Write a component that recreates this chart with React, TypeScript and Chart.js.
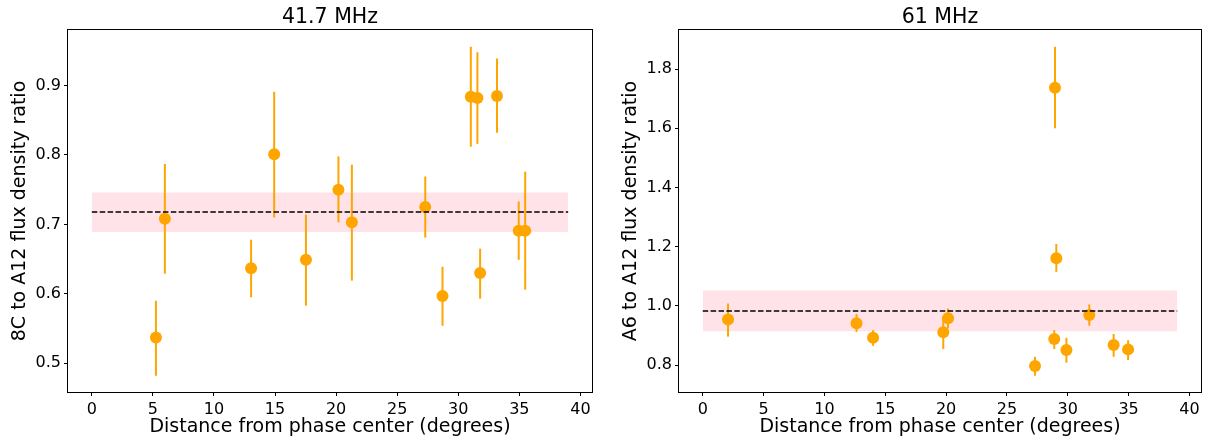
import React, { useEffect, useRef } from "react";
import { Chart, registerables } from "chart.js";

Chart.register(...registerables);

const FONT = "'DejaVu Sans', sans-serif";

// ---- Left panel: 41.7 MHz ----
const leftDistance = [5.25, 5.98, 13.04, 14.93, 17.53, 20.19, 21.29, 27.3, 28.71, 31.03, 31.57, 33.17, 31.79, 34.95, 35.48];
const leftRatio = [0.537, 0.708, 0.637, 0.801, 0.649, 0.75, 0.703, 0.725, 0.597, 0.884, 0.882, 0.885, 0.63, 0.691, 0.691];
const leftLower = [0.482, 0.629, 0.595, 0.71, 0.583, 0.703, 0.619, 0.681, 0.554, 0.812, 0.816, 0.832, 0.593, 0.649, 0.606];
const leftUpper = [0.59, 0.787, 0.678, 0.891, 0.714, 0.798, 0.786, 0.769, 0.639, 0.956, 0.948, 0.939, 0.665, 0.733, 0.776];
const leftMean = 0.718;
const leftBand = [0.689, 0.746];
const leftYTicks = [0.5, 0.6, 0.7, 0.8, 0.9];
const leftYRange = [0.4586, 0.98];

// ---- Right panel: 61 MHz ----
const rightDistance = [2.08, 12.64, 14.0, 19.77, 20.16, 27.31, 28.89, 29.06, 28.95, 29.89, 31.77, 33.77, 34.96];
const rightRatio = [0.954, 0.941, 0.892, 0.911, 0.958, 0.797, 0.888, 1.161, 1.737, 0.851, 0.969, 0.868, 0.853];
const rightLower = [0.896, 0.912, 0.865, 0.854, 0.924, 0.764, 0.854, 1.115, 1.6, 0.808, 0.933, 0.828, 0.817];
const rightUpper = [1.008, 0.972, 0.918, 0.963, 0.991, 0.828, 0.918, 1.209, 1.875, 0.892, 1.005, 0.905, 0.884];
const rightMean = 0.983;
const rightBand = [0.914, 1.052];
const rightYTicks = [0.8, 1.0, 1.2, 1.4, 1.6, 1.8];
const rightYRange = [0.709, 1.932];

// ---- Shared ----
const xTicks = [0, 5, 10, 15, 20, 25, 30, 35, 40];
const xRange = [-1.95, 40.95];
const bandExtent = [0, 39];
const xTitle = "Distance from phase center (degrees)";

const ORANGE = "#FFA500";

type PanelProps = {
  title: string;
  yTitle: string;
  xs: number[];
  ys: number[];
  lo: number[];
  hi: number[];
  mean: number;
  band: number[];
  yTicks: number[];
  yRange: number[];
  left: number;
  width: number;
  padRight: number;
};

function Panel(p: PanelProps) {
  const ref = useRef<HTMLCanvasElement | null>(null);
  useEffect(() => {
    if (!ref.current) return;
    const points = p.xs.map((x, i) => ({ x, y: p.ys[i] }));
    const errorBars = {
      id: "errorBars",
      beforeDatasetDraw(chart: any, args: any) {
        if (args.index !== 1) return;
        const xs = chart.scales.x;
        const ys = chart.scales.y;
        const ctx = chart.ctx;
        ctx.save();
        ctx.strokeStyle = ORANGE;
        ctx.lineWidth = 2;
        p.xs.forEach((x, i) => {
          const px = xs.getPixelForValue(x);
          ctx.beginPath();
          ctx.moveTo(px, ys.getPixelForValue(p.lo[i]));
          ctx.lineTo(px, ys.getPixelForValue(p.hi[i]));
          ctx.stroke();
        });
        ctx.restore();
      },
    };
    const frame = {
      id: "frame",
      afterDatasetsDraw(chart: any) {
        const a = chart.chartArea;
        const ctx = chart.ctx;
        ctx.save();
        ctx.strokeStyle = "#000";
        ctx.lineWidth = 1;
        ctx.strokeRect(Math.round(a.left) - 0.5, Math.round(a.top) - 0.5, Math.round(a.right - a.left) + 1, Math.round(a.bottom - a.top) + 1);
        ctx.restore();
      },
      afterDraw(chart: any) {
        const a = chart.chartArea;
        const ctx = chart.ctx;
        ctx.save();
        ctx.fillStyle = "#000";
        ctx.font = `20.5px ${FONT}`;
        ctx.textAlign = "center";
        ctx.textBaseline = "middle";
        ctx.fillText(p.title, (a.left + a.right) / 2, 17.3);
        ctx.restore();
      },
    };
    const chart = new Chart(ref.current, {
      type: "scatter",
      data: {
        datasets: [
          {
            type: "line",
            data: bandExtent.map((x) => ({ x, y: p.mean })),
            borderColor: "#000",
            borderWidth: 1.5,
            borderDash: [5.5, 2.4],
            pointRadius: 0,
            fill: false,
          } as any,
          {
            data: points,
            pointRadius: 6,
            pointBackgroundColor: ORANGE,
            pointBorderWidth: 0,
            backgroundColor: ORANGE,
            borderColor: ORANGE,
          },
          {
            type: "line",
            data: bandExtent.map((x) => ({ x, y: p.band[1] })),
            borderWidth: 0,
            pointRadius: 0,
            backgroundColor: "rgba(255,192,203,0.45)",
            fill: "+1",
          } as any,
          {
            type: "line",
            data: bandExtent.map((x) => ({ x, y: p.band[0] })),
            borderWidth: 0,
            pointRadius: 0,
            fill: false,
          } as any,
        ],
      },
      options: {
        responsive: false,
        animation: false,
        layout: { padding: { left: 0, right: p.padRight, top: 30, bottom: 0 } },
        plugins: {
          legend: { display: false },
          tooltip: { enabled: false },
          title: { display: false },
        },
        scales: {
          x: {
            type: "linear",
            min: xRange[0],
            max: xRange[1],
            afterBuildTicks: (s: any) => {
              s.ticks = xTicks.map((v) => ({ value: v }));
            },
            afterFit: (s: any) => {
              s.height = 47;
            },
            ticks: {
              color: "#000",
              font: { family: FONT, size: 16 },
              padding: 4,
              maxRotation: 0,
              autoSkip: false,
              callback: (v: any) => String(v),
            },
            grid: { display: true, drawOnChartArea: false, drawTicks: true, tickLength: 4, color: "#000" },
            border: { display: false },
            title: {
              display: true,
              text: xTitle,
              color: "#000",
              font: { family: FONT, size: 19, lineHeight: 1.0 },
              padding: { top: 0, bottom: 2 },
            },
          },
          y: {
            type: "linear",
            min: p.yRange[0],
            max: p.yRange[1],
            afterBuildTicks: (s: any) => {
              s.ticks = p.yTicks.map((v) => ({ value: v }));
            },
            afterFit: (s: any) => {
              s.width = 68;
            },
            ticks: {
              color: "#000",
              font: { family: FONT, size: 16 },
              padding: 3,
              autoSkip: false,
              callback: (v: any) => Number(v).toFixed(1),
            },
            grid: { display: true, drawOnChartArea: false, drawTicks: true, tickLength: 4, color: "#000" },
            border: { display: false },
            title: {
              display: true,
              text: p.yTitle,
              color: "#000",
              font: { family: FONT, size: 19, lineHeight: 1.0 },
              padding: { top: 10.5, bottom: 0 },
            },
          },
        },
      } as any,
      plugins: [errorBars, frame],
    });
    return () => chart.destroy();
  }, []);
  return (
    <canvas
      ref={ref}
      width={p.width}
      height={439}
      style={{ position: "absolute", left: p.left, top: 0, width: p.width, height: 439 }}
    />
  );
}

export default function App() {
  return (
    <div style={{ position: "fixed", left: 0, top: 0, width: 1207, height: 439, background: "#fff" }}>
      <Panel
        title="41.7 MHz"
        yTitle="8C to A12 flux density ratio"
        xs={leftDistance}
        ys={leftRatio}
        lo={leftLower}
        hi={leftUpper}
        mean={leftMean}
        band={leftBand}
        yTicks={leftYTicks}
        yRange={leftYRange}
        left={0}
        width={611}
        padRight={19}
      />
      <Panel
        title="61 MHz"
        yTitle="A6 to A12 flux density ratio"
        xs={rightDistance}
        ys={rightRatio}
        lo={rightLower}
        hi={rightUpper}
        mean={rightMean}
        band={rightBand}
        yTicks={rightYTicks}
        yRange={rightYRange}
        left={611}
        width={596}
        padRight={5}
      />
    </div>
  );
}
